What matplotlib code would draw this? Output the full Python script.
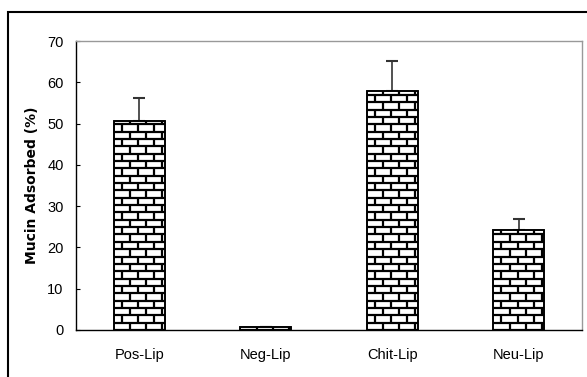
import matplotlib
matplotlib.use("Agg")
import matplotlib.pyplot as plt
import numpy as np
from matplotlib.collections import LineCollection
from matplotlib.patches import Rectangle

categories = ["Pos-Lip", "Neg-Lip", "Chit-Lip", "Neu-Lip"]
adsorbed = [50.6, 0.65, 58.0, 24.2]
errors = [5.5, 0.0, 7.1, 2.6]
yticks = [0, 10, 20, 30, 40, 50, 60, 70]

plt.rcParams["font.family"] = ["Liberation Sans", "DejaVu Sans"]

fig = plt.figure(figsize=(5.87, 3.77), dpi=100)
ax = fig.add_axes([0.1295, 0.1247, 0.862, 0.7665])

# outer frame around the whole chart (runs off right/bottom edges)
fig.patches.append(Rectangle((7.5 / 587, -0.1), 1.2, 1 - 12.5 / 377 + 0.1,
                             transform=fig.transFigure, fill=False,
                             edgecolor="black", lw=1.5))

x = np.arange(len(categories))
bars = ax.bar(x, adsorbed, width=0.4, color="white", edgecolor="black",
              linewidth=1.2, zorder=2)
ax.errorbar(x, adsorbed, yerr=[np.zeros(len(errors)), errors], fmt="none",
            ecolor="#333333", elinewidth=1.2, capsize=4, capthick=1.5, zorder=1)

ax.set_xlim(-0.5, 3.5)
ax.set_ylim(0, 70)

# brick texture inside each bar
row_h = 1.78
brick_w = 0.127
for b in bars:
    x0, w, h = b.get_x(), b.get_width(), b.get_height()
    segs = []
    n_rows = int(np.ceil(h / row_h))
    for r in range(n_rows):
        y0 = r * row_h
        y1 = min(y0 + row_h, h)
        segs.append([(x0, y0), (x0 + w, y0)])
        off = 0 if r % 2 == 0 else brick_w / 2
        xs = x0 + off
        while xs < x0 + w:
            if xs > x0:
                segs.append([(xs, y0), (xs, y1)])
            xs += brick_w
    lc = LineCollection(segs, colors="black", linewidths=1.6, zorder=3)
    ax.add_collection(lc)
    lc.set_clip_path(b)
    ax.add_patch(Rectangle((x0, 0), w, h, fill=False, edgecolor="black",
                           lw=1.2, zorder=4))

ax.set_xticks(x)
ax.set_xticklabels(categories, fontsize=10.5)
ax.set_yticks(yticks)
ax.tick_params(axis="x", length=0, pad=13)
ax.tick_params(axis="y", direction="in", length=3, pad=9, labelsize=10.5)
ax.set_ylabel("Mucin Adsorbed (%)", fontsize=10, fontweight="bold",
              family="DejaVu Sans", labelpad=6)

for side in ("top", "right"):
    ax.spines[side].set_color("#999999")
for side in ("left", "bottom"):
    ax.spines[side].set_color("black")
for s in ax.spines.values():
    s.set_linewidth(1.0)

fig.savefig("out.png", dpi=100)
